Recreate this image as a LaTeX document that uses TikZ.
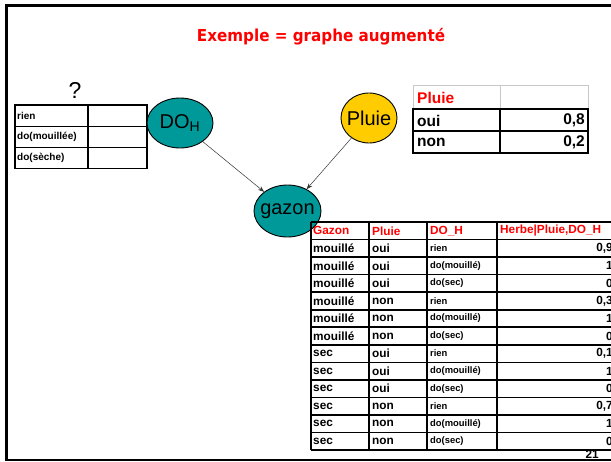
\documentclass[tikz,border=0pt]{standalone}
\usepackage{fontspec}
\setmainfont{Liberation Sans}
\newfontfamily\titlefont{DejaVu Sans}
\usetikzlibrary{arrows.meta,shapes.geometric}
\definecolor{nodeteal}{HTML}{009999}
\definecolor{rainyellow}{HTML}{FFCC00}
\definecolor{slidered}{HTML}{FF0000}
\definecolor{softgray}{HTML}{C8C8C8}

\tikzset{
  bubble/.style={ellipse, draw=black, line width=0.9pt, inner ysep=0pt, inner xsep=-4pt,
                 font=\fontsize{20}{22}\selectfont},
  link/.style={draw=black!80, line width=0.5pt, -{Stealth[length=6pt,width=4.5pt]}},
  gridline/.style={draw=black, line width=1.6pt},
  cell/.style={inner sep=0pt, font=\bfseries\fontsize{11.8}{13}\selectfont},
  smallcell/.style={inner sep=0pt, font=\bfseries\fontsize{9.4}{10}\selectfont},
  headcell/.style={cell, text=slidered},
  bigcell/.style={inner sep=0pt, font=\bfseries\fontsize{15.5}{17}\selectfont},
  leftcell/.style={inner sep=0pt, anchor=west, font=\bfseries\fontsize{10}{11}\selectfont},
}

\begin{document}
\begin{tikzpicture}[x=1pt,y=-1pt]
\useasboundingbox (0,0) rectangle (611,461);
\fill[white] (0,0) rectangle (611,461);

% slide frame (open on the right)
\draw[line width=2.6pt] (615,5.5) -- (6.2,5.5) -- (6.2,460) -- (615,460);

% title
\node[font=\titlefont\bfseries\fontsize{16.5}{19}\selectfont, text=slidered]
  (title) at (321,37) {\scalebox{0.92}[1]{Exemple = graphe augmenté}};

% question mark and intervention table
\node[font=\fontsize{23}{25}\selectfont] (qmark) at (75,90) {?};
\draw[gridline, line width=1.3pt] (15,105) rectangle (147,168.5);
\draw[gridline, line width=1.3pt] (88,105) -- (88,168.5);
\draw[gridline, line width=1.3pt] (15,126.2) -- (147,126.2);
\draw[gridline, line width=1.3pt] (15,147.4) -- (147,147.4);
\node[leftcell] (irien) at (17,115.6) {rien};
\node[leftcell] (imouil) at (17,136.8) {do(mouillée)};
\node[leftcell] (iseche) at (17,158) {do(sèche)};

% the three variables
\node[bubble, fill=nodeteal, minimum width=66pt, minimum height=50pt] (doh) at (180,123) {DO\textsubscript{H}};
\node[bubble, fill=rainyellow, minimum width=56pt, minimum height=50pt] (pluie) at (369,118) {Pluie};
\node[bubble, fill=nodeteal, minimum width=67pt, minimum height=52pt] (gazon) at (287.5,211) {gazon};

\draw[link] (doh) -- (gazon);
\draw[link] (pluie) -- (gazon);

% prior table for Pluie
\draw[softgray, line width=0.8pt] (413,109) -- (413,85) -- (588,85) -- (588,109);
\draw[softgray, line width=0.8pt] (500,85) -- (500,109);
\draw[gridline, line width=2pt] (413,109) rectangle (588,153);
\draw[gridline, line width=2pt] (413,131) -- (588,131);
\draw[gridline, line width=2pt] (500,109) -- (500,153);
\node[bigcell, text=slidered, anchor=west] (ph) at (417,97.5) {Pluie};
\node[bigcell, anchor=west] (poui) at (417,120.5) {oui};
\node[bigcell, anchor=west] (pnon) at (417,142.5) {non};
\node[bigcell, anchor=east] (pv1) at (585,120.5) {0,8};
\node[bigcell, anchor=east] (pv2) at (585,142.5) {0,2};

% conditional table for gazon
\foreach \k in {0,...,13}
  \draw[gridline] (311,{222+17.54*\k}) -- (625,{222+17.54*\k});
\foreach \cx in {311,369,427,497}
  \draw[gridline] (\cx,222) -- (\cx,450);

\node[headcell, anchor=west] (hg) at (313,230.8) {Gazon};
\node[headcell, anchor=west] (hp) at (372,230.8) {Pluie};
\node[headcell, anchor=west] (hd) at (430,230.8) {DO\_H};
\node[headcell, anchor=west] (hv) at (500,230.8) {Herbe|Pluie,DO\_H};

\foreach \g/\p/\d/\v [count=\i] in {
  mouillé/oui/rien/{0,9}, mouillé/oui/do(mouillé)/1, mouillé/oui/do(sec)/0,
  mouillé/non/rien/{0,3}, mouillé/non/do(mouillé)/1, mouillé/non/do(sec)/0,
  sec/oui/rien/{0,1}, sec/oui/do(mouillé)/1, sec/oui/do(sec)/0,
  sec/non/rien/{0,7}, sec/non/do(mouillé)/1, sec/non/do(sec)/0}
{
  \pgfmathsetmacro\yc{222+17.54*(\i+0.5)}
  \node[cell, anchor=west] (g\i) at (313,\yc) {\g};
  \node[cell, anchor=west] (p\i) at (372,\yc) {\p};
  \node[smallcell, anchor=west] (d\i) at (430,\yc) {\d};
  \node[cell, anchor=east] (v\i) at (613,\yc) {\v};
}

% page number
\node[cell, anchor=east] (pagenum) at (599,454.5) {21};
\end{tikzpicture}
\end{document}
